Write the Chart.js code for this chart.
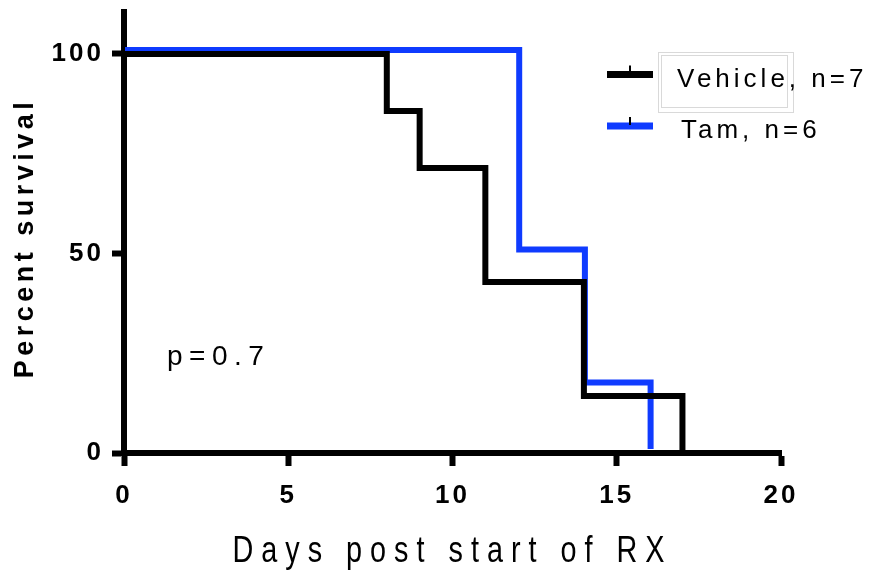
<!DOCTYPE html>
<html><head><meta charset="utf-8">
<script src="https://cdn.jsdelivr.net/npm/chart.js@4"></script>
<style>html,body{margin:0;padding:0;background:#fff}canvas{display:block}</style>
</head><body>
<canvas id="c" width="877" height="573"></canvas>
<script>
// ---- data ----
const vehicleDays = [0, 8, 9, 11, 14, 17];
const vehicleSurvival = [100, 85.71, 71.43, 42.86, 14.29, 0];
const tamDays = [0, 12, 14, 16];
const tamSurvival = [100, 50, 16.67, 0];
const xTicks = [0, 5, 10, 15, 20];
const yTicks = [0, 50, 100];
const seriesNames = ['Vehicle, n=7', 'Tam, n=6'];
const seriesColors = ['#000000', '#0f3bff'];
const pValueText = 'p=0.7';
const xTitle = 'Days post start of RX';
const yTitle = 'Percent survival';

const FONT = '"Liberation Sans", Arial, sans-serif';
Chart.defaults.font.family = FONT;
Chart.defaults.color = '#000';

const toPoints = (xs, ys) => xs.map((x, i) => ({x: x, y: ys[i]}));

const decor = {
  id: 'decor',
  beforeDraw(chart) {
    chart.ctx.letterSpacing = '3px';
  },
  beforeDatasetDraw(chart, args) {
    if (args.index === 1) { chart.ctx.save(); chart.ctx.translate(1, -4); }
  },
  afterDatasetDraw(chart, args) {
    if (args.index === 1) { chart.ctx.restore(); }
  },
  afterDraw(chart) {
    const ctx = chart.ctx;
    const ca = chart.chartArea;
    // x title
    ctx.save();
    ctx.fillStyle = '#000';
    ctx.font = '36px ' + FONT;
    ctx.letterSpacing = '10px';
    ctx.textAlign = 'center';
    ctx.textBaseline = 'alphabetic';
    ctx.translate((ca.left + ca.right) / 2, 562);
    ctx.scale(0.8, 1);
    ctx.fillText(xTitle, 0, 0);
    ctx.restore();
    // y title
    ctx.save();
    ctx.fillStyle = '#000';
    ctx.font = 'bold 27px ' + FONT;
    ctx.letterSpacing = '4.5px';
    ctx.textAlign = 'center';
    ctx.textBaseline = 'alphabetic';
    ctx.translate(33, 238);
    ctx.rotate(-Math.PI / 2);
    ctx.fillText(yTitle, 0, 0);
    ctx.restore();
    // legend
    ctx.save();
    ctx.strokeStyle = '#d9d9d9';
    ctx.lineWidth = 1;
    ctx.strokeRect(658.5, 52.5, 135, 60);
    ctx.strokeRect(661.5, 55.5, 126, 52);
    const rows = [{y: 74.5, base: 87, tx: 677}, {y: 126, base: 138, tx: 681}];
    rows.forEach((r, i) => {
      ctx.fillStyle = seriesColors[i];
      ctx.fillRect(607, r.y - 3.5, 46, 7);
      ctx.fillStyle = '#000';
      ctx.fillRect(629, r.y - 9, 2, 8);
      ctx.font = '26px ' + FONT;
      ctx.letterSpacing = '4px';
      ctx.textAlign = 'left';
      ctx.textBaseline = 'alphabetic';
      ctx.fillText(seriesNames[i], r.tx, r.base);
    });
    // p value
    ctx.font = '28px ' + FONT;
    ctx.letterSpacing = '6.5px';
    ctx.fillText(pValueText, 167, 365);
    ctx.restore();
  }
};

new Chart(document.getElementById('c'), {
  type: 'line',
  data: {
    datasets: [
      {label: seriesNames[0], data: toPoints(vehicleDays, vehicleSurvival), borderColor: seriesColors[0],
       borderWidth: 6, stepped: 'before', pointRadius: 0, fill: false, clip: false,
       borderJoinStyle: 'miter', borderCapStyle: 'butt'},
      {label: seriesNames[1], data: toPoints(tamDays, tamSurvival), borderColor: seriesColors[1],
       borderWidth: 6, stepped: 'before', pointRadius: 0, fill: false, clip: false,
       borderJoinStyle: 'miter', borderCapStyle: 'butt'}
    ]
  },
  options: {
    responsive: false,
    animation: false,
    events: [],
    layout: {padding: {top: 12, right: 96, bottom: 0, left: 0}},
    plugins: {legend: {display: false}, tooltip: {enabled: false}},
    scales: {
      x: {
        type: 'linear', min: 0, max: 20,
        afterBuildTicks: s => { s.ticks = xTicks.map(v => ({value: v})); },
        afterFit: s => { s.height = 120; s.paddingLeft = 0; s.paddingRight = 0; },
        grid: {drawOnChartArea: false, drawTicks: true, tickLength: 13, tickWidth: 6, tickColor: '#000'},
        border: {display: true, width: 6, color: '#000'},
        ticks: {font: {size: 26, weight: 'bold'}, color: '#000', padding: 14, maxRotation: 0}
      },
      y: {
        type: 'linear', min: 0, max: 110.5,
        afterBuildTicks: s => { s.ticks = yTicks.map(v => ({value: v})); },
        afterFit: s => { s.width = 124; s.paddingTop = 0; s.paddingBottom = 0; },
        grid: {drawOnChartArea: false, drawTicks: true, tickLength: 12, tickWidth: 6, tickColor: '#000'},
        border: {display: true, width: 6, color: '#000'},
        ticks: {font: {size: 26, weight: 'bold'}, color: '#000', padding: 8}
      }
    }
  },
  plugins: [decor]
});
</script>
</body></html>
